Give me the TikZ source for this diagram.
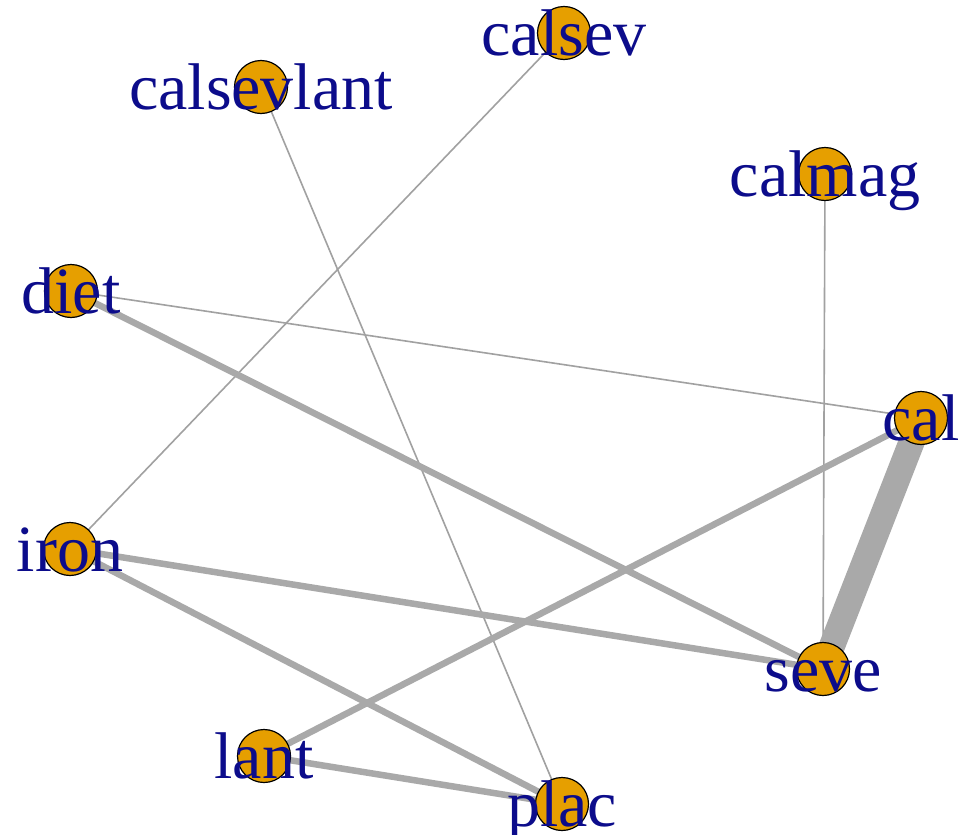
\documentclass[tikz,border=0pt]{standalone}
\usepackage{fontspec}
\setmainfont{Liberation Serif}
\definecolor{vfill}{RGB}{230,159,0}
\definecolor{edgec}{RGB}{169,169,169}
\definecolor{labc}{RGB}{12,12,139}
\begin{document}
\begin{tikzpicture}[x=1pt,y=-1pt,
  vtx/.style={circle,draw=black,fill=vfill,line width=1.2pt,minimum size=53pt,inner sep=0pt},
  lab/.style={text=labc,font=\fontsize{66}{66}\selectfont,inner sep=0pt,text height=45pt,text depth=0pt,anchor=center},
  thinedge/.style={draw=edgec!95!black,line width=1.6pt},
  midedge/.style={draw=edgec,line width=6.5pt},
  bigedge/.style={draw=edgec,line width=26pt}]
\fill[white] (0,0) rectangle (972,835);
\useasboundingbox (0,0) rectangle (972,835);
% vertex positions
\coordinate (calsev) at (564,33);
\coordinate (calsevlant) at (261,87);
\coordinate (calmag) at (825,174);
\coordinate (diet) at (71,291);
\coordinate (cal) at (921,418);
\coordinate (iron) at (70,549);
\coordinate (seve) at (823,669);
\coordinate (lant) at (264,756);
\coordinate (plac) at (562,804);
% edges
\draw[thinedge] (calsev) -- (iron);
\draw[thinedge] (calsevlant) -- (plac);
\draw[thinedge] (calmag) -- (seve);
\draw[thinedge] (diet) -- (cal);
\draw[midedge] (diet) -- (seve);
\draw[bigedge] (cal) -- (seve);
\draw[midedge] (cal) -- (lant);
\draw[midedge] (iron) -- (seve);
\draw[midedge] (iron) -- (plac);
\draw[midedge] (lant) -- (plac);
% vertices
\foreach \v in {calsev,calsevlant,calmag,diet,cal,iron,seve,lant,plac}
  \node[vtx] (\v-v) at (\v) {};
% labels
\foreach \v in {calsev,calsevlant,calmag,diet,cal,iron,seve,lant,plac}
  \node[lab] (\v-l) at (\v) {\v};
\end{tikzpicture}
\end{document}
